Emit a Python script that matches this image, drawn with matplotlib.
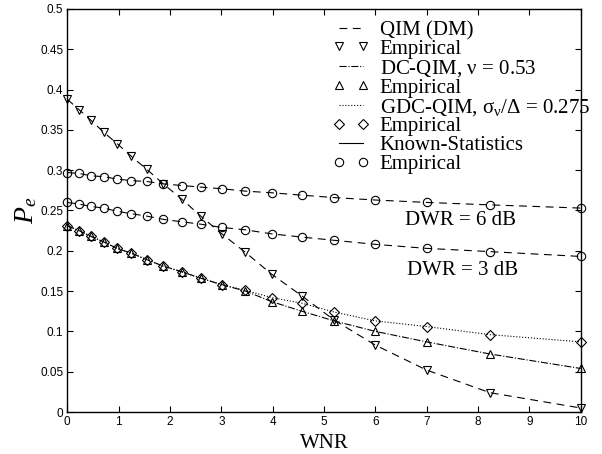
import matplotlib
matplotlib.use('Agg')
import matplotlib.pyplot as plt
from matplotlib.lines import Line2D
from matplotlib.ticker import FormatStrFormatter

plt.rcParams['mathtext.fontset'] = 'custom'
plt.rcParams['mathtext.rm'] = 'Liberation Serif'
plt.rcParams['mathtext.it'] = 'Liberation Serif:italic'

# WNR points
wnr = [0, 0.23, 0.46, 0.71, 0.97, 1.25, 1.55, 1.87, 2.23, 2.6, 3.01, 3.47,
       3.98, 4.57, 5.2, 6.0, 7.0, 8.23, 10.0]

# probability of error
qim = [0.388, 0.375, 0.362, 0.347, 0.333, 0.317, 0.301, 0.283, 0.264, 0.243,
       0.221, 0.198, 0.171, 0.144, 0.114, 0.083, 0.052, 0.024, 0.005]
dc_qim = [0.231, 0.225, 0.218, 0.211, 0.203, 0.197, 0.189, 0.181, 0.174, 0.166,
          0.158, 0.150, 0.137, 0.125, 0.113, 0.100, 0.087, 0.072, 0.054]
gdc_qim = [0.231, 0.225, 0.218, 0.211, 0.203, 0.197, 0.189, 0.181, 0.174, 0.166,
           0.158, 0.151, 0.142, 0.135, 0.124, 0.113, 0.106, 0.096, 0.087]
ks_6db = [0.297, 0.296, 0.293, 0.292, 0.289, 0.287, 0.286, 0.283, 0.281, 0.279,
          0.277, 0.274, 0.272, 0.269, 0.266, 0.263, 0.260, 0.257, 0.253]
ks_3db = [0.260, 0.258, 0.255, 0.253, 0.249, 0.246, 0.243, 0.239, 0.236, 0.233,
          0.229, 0.226, 0.221, 0.217, 0.213, 0.208, 0.203, 0.199, 0.193]

fig = plt.figure(figsize=(6.02, 4.54), dpi=100)
ax = fig.add_axes([0.1118, 0.0925, 0.8528, 0.8877])

lw = 0.8
dash = (0, (7, 5))
mk = dict(mfc='none', mec='black', mew=0.8, ms=6, ls='none', clip_on=False)

h1, = ax.plot(wnr, qim, color='black', lw=lw, ls=dash, label='QIM (DM)')
h2, = ax.plot(wnr, qim, marker='v', label='Empirical', **mk)
h3, = ax.plot(wnr, dc_qim, color='black', lw=lw, ls='-.', label=r'DC-QIM, $\mathrm{\nu}$ = 0.53')
h4, = ax.plot(wnr, dc_qim, marker='^', label='Empirical', **mk)
h5, = ax.plot(wnr, gdc_qim, color='black', lw=lw, ls=':',
              label=r'GDC-QIM, $\mathrm{\sigma_{\nu}/\Delta}$ = 0.275')
h6, = ax.plot(wnr, gdc_qim, marker='D', label='Empirical', **{**mk, 'ms': 5})
ax.plot(wnr, ks_6db, color='black', lw=lw, ls=dash)
ax.plot(wnr, ks_3db, color='black', lw=lw, ls=dash)
h8, = ax.plot(wnr, ks_6db, marker='o', label='Empirical', **mk)
ax.plot(wnr, ks_3db, marker='o', **mk)
h7 = Line2D([], [], color='black', lw=lw, label='Known-Statistics')

handles = [h1, h2, h3, h4, h5, h6, h7, h8]
leg = fig.legend(handles=handles, loc='upper left', bbox_to_anchor=(0.553, 0.955),
                 frameon=False, numpoints=2, handlelength=1.75, handletextpad=0.5,
                 labelspacing=-0.04, borderpad=0, borderaxespad=0,
                 prop={'family': 'Liberation Serif', 'size': 15})

ax.text(6.58, 0.238, 'DWR = 6 dB', family='Liberation Serif', fontsize=15, va='center')
ax.text(6.62, 0.176, 'DWR = 3 dB', family='Liberation Serif', fontsize=15, va='center')

ax.set_xlim(0, 10)
ax.set_ylim(0, 0.5)
ax.set_xticks(range(0, 11))
ax.set_yticks([i * 0.05 for i in range(11)])
ax.yaxis.set_major_formatter(FormatStrFormatter('%g'))
ax.tick_params(direction='in', top=True, right=True, length=4, width=0.8,
               labelsize=8.5, pad=3)
for lab in ax.get_xticklabels() + ax.get_yticklabels():
    lab.set_family('Liberation Sans')
for s in ax.spines.values():
    s.set_linewidth(1.0)

ax.set_xlabel('WNR', family='Liberation Serif', fontsize=15, labelpad=4)
ax.set_ylabel('$P_e$', fontsize=20, labelpad=1)

fig.savefig('out.png', dpi=100)
